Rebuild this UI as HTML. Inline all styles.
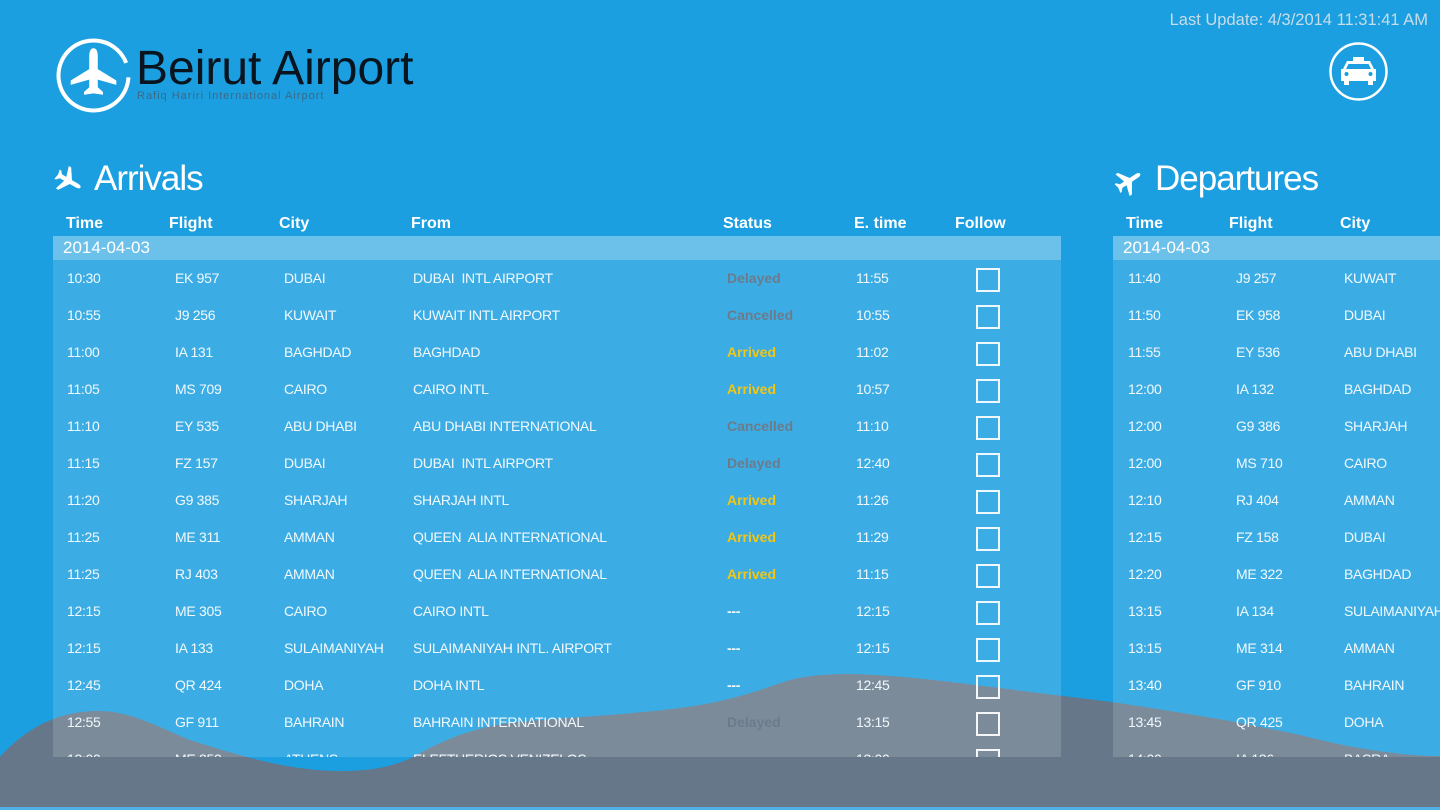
<!DOCTYPE html>
<html><head><meta charset="utf-8">
<style>
*{margin:0;padding:0;box-sizing:border-box}
html,body{width:1440px;height:810px;overflow:hidden;background:#1b9fe0;font-family:"Liberation Sans",sans-serif;color:#f2f9fd}
.abs{position:absolute}
#mtn{position:absolute;left:0;top:0;z-index:0}
.panel{position:absolute;top:236px;height:521px;z-index:1}
.date{position:absolute;left:0;top:0;width:100%;height:24px;background:rgba(255,255,255,0.355);font-size:17px;line-height:24px;padding-left:10px;color:#fff}
.rows{position:absolute;left:0;top:24px;width:100%;height:497px;background:rgba(255,255,255,0.15);overflow:hidden}
.r{position:absolute;left:0;width:100%;height:37px;line-height:37px;font-size:14px;letter-spacing:-0.3px;white-space:nowrap}
.r span{position:absolute;top:0}
.hd{position:absolute;top:214px;line-height:20px;font-size:16px;font-weight:bold;color:#fff;z-index:2;white-space:nowrap}
.title{position:absolute;top:159px;line-height:40px;font-size:35px;letter-spacing:-1px;color:#fff;z-index:2}
.dl{color:#6b7b8c;font-weight:bold;letter-spacing:0}
.ar{color:#f3c613;font-weight:bold;letter-spacing:0}
.r span.cb{position:absolute;top:8px;width:24px;height:24px;border:2px solid rgba(255,255,255,0.92)}
</style></head><body>

<svg id="mtn" width="1440" height="810" viewBox="0 0 1440 810">
<path fill="#657789" d="M0,757 C20,735 50,712 95,711 C130,710 160,728 190,740 C240,756 290,771 340,771 C375,771 395,766 415,756 C440,742 470,728 510,723 C560,717 640,715 700,705 C740,698 765,688 790,680 C810,675 830,674 850,674 C900,675 950,682 1000,688 C1050,695 1100,700 1125,704 C1190,714 1240,722 1300,735 C1350,748 1400,756 1440,756 L1440,807 L0,807 Z"/>
<rect x="0" y="807" width="1440" height="3" fill="#4fb0e4"/>
</svg>

<!-- logo -->
<svg class="abs" style="left:0;top:0;z-index:2" width="460" height="130" viewBox="0 0 460 130">
<path d="M128.45,77.3 A35,35 0 1 1 126.18,62.96" fill="none" stroke="#fff" stroke-width="4"/>
<path fill="#fff" transform="translate(93.5,72) scale(0.95)" d="M0,-25 C3.5,-25 4.5,-21 4.5,-16 L4.5,-3 L24,9 L24,13.5 L4.5,8 L4.5,16 L10,21 L10,24 L0,22.5 L-10,24 L-10,21 L-4.5,16 L-4.5,8 L-24,13.5 L-24,9 L-4.5,-3 L-4.5,-16 C-4.5,-21 -3.5,-25 0,-25 Z"/>
</svg>
<div class="abs" style="left:136px;top:41px;line-height:56px;font-size:48px;color:#08141e;z-index:2;white-space:nowrap">Beirut Airport</div>
<div class="abs" style="left:137px;top:89px;line-height:14px;font-size:11px;letter-spacing:1px;color:#3a6a88;z-index:2;white-space:nowrap">Rafiq Hariri International Airport</div>

<div class="abs" style="right:12px;top:10px;line-height:20px;font-size:16.5px;color:#c9dce9;z-index:2;white-space:nowrap">Last Update: 4/3/2014 11:31:41 AM</div>

<!-- taxi -->
<svg class="abs" style="left:1320px;top:33px;z-index:2" width="80" height="80" viewBox="0 0 80 80">
<circle cx="38.5" cy="38.5" r="28" fill="none" stroke="#fff" stroke-width="2.5"/>
<rect x="33" y="24" width="11" height="4" fill="#fff"/>
<path fill="#fff" d="M27,28 L50,28 L54,36 L56,36 L56,48 L53,48 L53,52 L48,52 L48,48 L29,48 L29,52 L24,52 L24,48 L21,48 L21,36 L23,36 Z"/>
<path fill="#1b9fe0" d="M28.5,31 L48.5,31 L51,36 L26,36 Z"/>
<circle cx="26.5" cy="41" r="2" fill="#1b9fe0"/>
<circle cx="50.5" cy="41" r="2" fill="#1b9fe0"/>
</svg>

<!-- icons -->
<svg class="abs" style="left:50px;top:165px;z-index:2" width="40" height="32" viewBox="0 0 40 32">
<path fill="#fff" transform="translate(19,16) rotate(120) scale(0.55)" d="M0,-24 C3,-24 4,-20 4,-16 L4,-4 L23.5,9 L23.5,14 L4,8 L4,17 L9.5,22 L9.5,25 L0,23 L-9.5,25 L-9.5,22 L-4,17 L-4,8 L-23.5,14 L-23.5,9 L-4,-4 L-4,-16 C-4,-20 -3,-24 0,-24 Z"/>
</svg>
<svg class="abs" style="left:1110px;top:165px;z-index:2" width="40" height="32" viewBox="0 0 40 32">
<path fill="#fff" transform="translate(19,16) rotate(57) scale(0.55)" d="M0,-24 C3,-24 4,-20 4,-16 L4,-4 L23.5,9 L23.5,14 L4,8 L4,17 L9.5,22 L9.5,25 L0,23 L-9.5,25 L-9.5,22 L-4,17 L-4,8 L-23.5,14 L-23.5,9 L-4,-4 L-4,-16 C-4,-20 -3,-24 0,-24 Z"/>
</svg>

<div class="title" style="left:94px">Arrivals</div>
<div class="title" style="left:1155px">Departures</div>

<div class="hd" style="left:66px">Time</div>
<div class="hd" style="left:169px">Flight</div>
<div class="hd" style="left:279px">City</div>
<div class="hd" style="left:411px">From</div>
<div class="hd" style="left:723px">Status</div>
<div class="hd" style="left:854px">E. time</div>
<div class="hd" style="left:955px">Follow</div>
<div class="hd" style="left:1126px">Time</div>
<div class="hd" style="left:1229px">Flight</div>
<div class="hd" style="left:1340px">City</div>

<!-- Arrivals -->
<div class="panel" style="left:53px;width:1008px">
<div class="date">2014-04-03</div>
<div class="rows">
<div class="r" style="top:0px"><span style="left:14px">10:30</span><span style="left:122px">EK 957</span><span style="left:231px">DUBAI</span><span style="left:360px">DUBAI&nbsp; INTL AIRPORT</span><span class="dl" style="left:674px">Delayed</span><span style="left:803px">11:55</span><span class="cb" style="left:923px"></span></div>
<div class="r" style="top:37px"><span style="left:14px">10:55</span><span style="left:122px">J9 256</span><span style="left:231px">KUWAIT</span><span style="left:360px">KUWAIT INTL AIRPORT</span><span class="dl" style="left:674px">Cancelled</span><span style="left:803px">10:55</span><span class="cb" style="left:923px"></span></div>
<div class="r" style="top:74px"><span style="left:14px">11:00</span><span style="left:122px">IA 131</span><span style="left:231px">BAGHDAD</span><span style="left:360px">BAGHDAD</span><span class="ar" style="left:674px">Arrived</span><span style="left:803px">11:02</span><span class="cb" style="left:923px"></span></div>
<div class="r" style="top:111px"><span style="left:14px">11:05</span><span style="left:122px">MS 709</span><span style="left:231px">CAIRO</span><span style="left:360px">CAIRO INTL</span><span class="ar" style="left:674px">Arrived</span><span style="left:803px">10:57</span><span class="cb" style="left:923px"></span></div>
<div class="r" style="top:148px"><span style="left:14px">11:10</span><span style="left:122px">EY 535</span><span style="left:231px">ABU DHABI</span><span style="left:360px">ABU DHABI INTERNATIONAL</span><span class="dl" style="left:674px">Cancelled</span><span style="left:803px">11:10</span><span class="cb" style="left:923px"></span></div>
<div class="r" style="top:185px"><span style="left:14px">11:15</span><span style="left:122px">FZ 157</span><span style="left:231px">DUBAI</span><span style="left:360px">DUBAI&nbsp; INTL AIRPORT</span><span class="dl" style="left:674px">Delayed</span><span style="left:803px">12:40</span><span class="cb" style="left:923px"></span></div>
<div class="r" style="top:222px"><span style="left:14px">11:20</span><span style="left:122px">G9 385</span><span style="left:231px">SHARJAH</span><span style="left:360px">SHARJAH INTL</span><span class="ar" style="left:674px">Arrived</span><span style="left:803px">11:26</span><span class="cb" style="left:923px"></span></div>
<div class="r" style="top:259px"><span style="left:14px">11:25</span><span style="left:122px">ME 311</span><span style="left:231px">AMMAN</span><span style="left:360px">QUEEN&nbsp; ALIA INTERNATIONAL</span><span class="ar" style="left:674px">Arrived</span><span style="left:803px">11:29</span><span class="cb" style="left:923px"></span></div>
<div class="r" style="top:296px"><span style="left:14px">11:25</span><span style="left:122px">RJ 403</span><span style="left:231px">AMMAN</span><span style="left:360px">QUEEN&nbsp; ALIA INTERNATIONAL</span><span class="ar" style="left:674px">Arrived</span><span style="left:803px">11:15</span><span class="cb" style="left:923px"></span></div>
<div class="r" style="top:333px"><span style="left:14px">12:15</span><span style="left:122px">ME 305</span><span style="left:231px">CAIRO</span><span style="left:360px">CAIRO INTL</span><span style="left:674px;font-weight:bold">---</span><span style="left:803px">12:15</span><span class="cb" style="left:923px"></span></div>
<div class="r" style="top:370px"><span style="left:14px">12:15</span><span style="left:122px">IA 133</span><span style="left:231px">SULAIMANIYAH</span><span style="left:360px">SULAIMANIYAH INTL. AIRPORT</span><span style="left:674px;font-weight:bold">---</span><span style="left:803px">12:15</span><span class="cb" style="left:923px"></span></div>
<div class="r" style="top:407px"><span style="left:14px">12:45</span><span style="left:122px">QR 424</span><span style="left:231px">DOHA</span><span style="left:360px">DOHA INTL</span><span style="left:674px;font-weight:bold">---</span><span style="left:803px">12:45</span><span class="cb" style="left:923px"></span></div>
<div class="r" style="top:444px"><span style="left:14px">12:55</span><span style="left:122px">GF 911</span><span style="left:231px">BAHRAIN</span><span style="left:360px">BAHRAIN INTERNATIONAL</span><span class="dl" style="left:674px">Delayed</span><span style="left:803px">13:15</span><span class="cb" style="left:923px"></span></div>
<div class="r" style="top:481px"><span style="left:14px">13:00</span><span style="left:122px">ME 252</span><span style="left:231px">ATHENS</span><span style="left:360px">ELEFTHERIOS VENIZELOS</span><span style="left:803px">13:00</span><span class="cb" style="left:923px"></span></div>
</div>
</div>

<!-- Departures -->
<div class="panel" style="left:1113px;width:400px">
<div class="date">2014-04-03</div>
<div class="rows">
<div class="r" style="top:0px"><span style="left:15px">11:40</span><span style="left:123px">J9 257</span><span style="left:231px">KUWAIT</span></div>
<div class="r" style="top:37px"><span style="left:15px">11:50</span><span style="left:123px">EK 958</span><span style="left:231px">DUBAI</span></div>
<div class="r" style="top:74px"><span style="left:15px">11:55</span><span style="left:123px">EY 536</span><span style="left:231px">ABU DHABI</span></div>
<div class="r" style="top:111px"><span style="left:15px">12:00</span><span style="left:123px">IA 132</span><span style="left:231px">BAGHDAD</span></div>
<div class="r" style="top:148px"><span style="left:15px">12:00</span><span style="left:123px">G9 386</span><span style="left:231px">SHARJAH</span></div>
<div class="r" style="top:185px"><span style="left:15px">12:00</span><span style="left:123px">MS 710</span><span style="left:231px">CAIRO</span></div>
<div class="r" style="top:222px"><span style="left:15px">12:10</span><span style="left:123px">RJ 404</span><span style="left:231px">AMMAN</span></div>
<div class="r" style="top:259px"><span style="left:15px">12:15</span><span style="left:123px">FZ 158</span><span style="left:231px">DUBAI</span></div>
<div class="r" style="top:296px"><span style="left:15px">12:20</span><span style="left:123px">ME 322</span><span style="left:231px">BAGHDAD</span></div>
<div class="r" style="top:333px"><span style="left:15px">13:15</span><span style="left:123px">IA 134</span><span style="left:231px">SULAIMANIYAH</span></div>
<div class="r" style="top:370px"><span style="left:15px">13:15</span><span style="left:123px">ME 314</span><span style="left:231px">AMMAN</span></div>
<div class="r" style="top:407px"><span style="left:15px">13:40</span><span style="left:123px">GF 910</span><span style="left:231px">BAHRAIN</span></div>
<div class="r" style="top:444px"><span style="left:15px">13:45</span><span style="left:123px">QR 425</span><span style="left:231px">DOHA</span></div>
<div class="r" style="top:481px"><span style="left:15px">14:00</span><span style="left:123px">IA 136</span><span style="left:231px">BASRA</span></div>
</div>
</div>

</body></html>
